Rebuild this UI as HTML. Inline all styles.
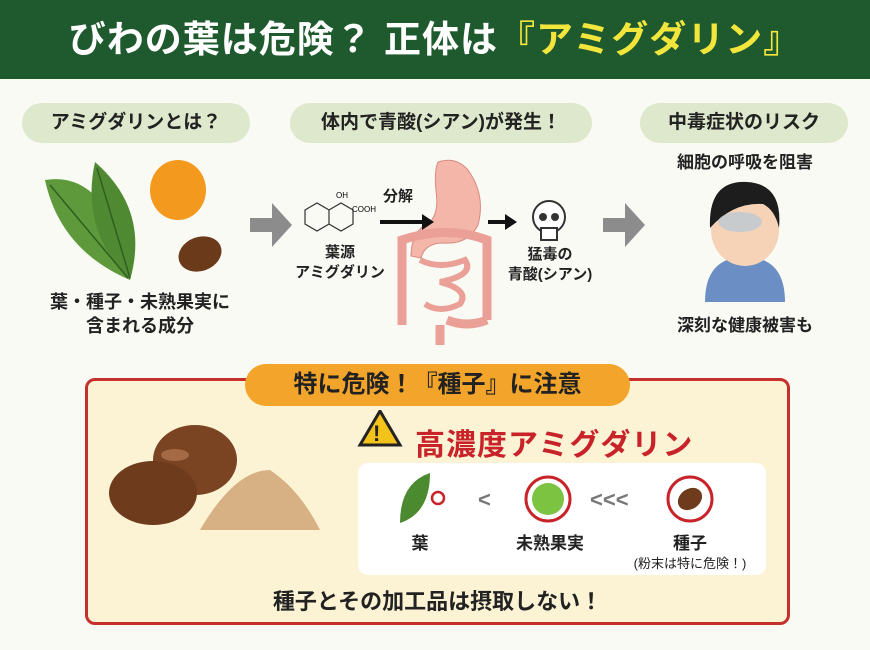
<!DOCTYPE html>
<html><head><meta charset="utf-8"><style>
*{margin:0;padding:0;box-sizing:border-box}
body{width:870px;height:650px;background:#fafaf5;position:relative;overflow:hidden;font-family:"Liberation Sans","Noto Sans CJK JP",sans-serif;font-weight:bold;color:#222}
.a{position:absolute}
.hdr{left:0;top:0;width:870px;height:79px;background:#1f5a2f;color:#fff;font-size:37px;text-align:center;line-height:79px;letter-spacing:1px}
.hdr span{color:#f2e63c}
.pill{background:#dde8cc;border-radius:20px;height:40px;line-height:40px;text-align:center;font-size:19px;top:103px}
.t{text-align:center;font-size:17px;line-height:22px}
</style></head><body>
<div class="a hdr">びわの葉は危険？ 正体は<span>『アミグダリン』</span></div>
<div class="a pill" style="left:22px;width:228px">アミグダリンとは？</div>
<div class="a pill" style="left:290px;width:302px">体内で青酸(シアン)が発生！</div>
<div class="a pill" style="left:640px;width:208px">中毒症状のリスク</div>

<svg class="a" style="left:0;top:150px" width="870" height="200">
<path d="M45 30 Q110 20 130 130 Q60 100 45 30Z" fill="#5e9a3c"/>
<path d="M95 12 Q150 60 130 130 Q80 80 95 12Z" fill="#4f8a33"/>
<path d="M50 35 L128 128 M97 18 L130 128" stroke="#2f5e1e" stroke-width="1.5"/>
<ellipse cx="178" cy="40" rx="28" ry="30" fill="#f39a1e"/>
<ellipse cx="200" cy="104" rx="22" ry="17" fill="#6b3a1a" transform="rotate(-20 200 104)"/>
<path d="M250 68 h22 v-15 l20 22 l-20 22 v-15 h-22z" fill="#8c8c8c"/>
<path d="M603 68 h22 v-15 l20 22 l-20 22 v-15 h-22z" fill="#8c8c8c"/>
<g stroke="#333" fill="none" stroke-width="1.2"><path d="M305 60 l12 -7 l12 7 v14 l-12 7 l-12 -7z M329 60 l12 -7 l12 7 v14 l-12 7 l-12 -7z"/></g>
<text x="336" y="48" font-size="8" font-weight="normal">OH</text><text x="352" y="62" font-size="8" font-weight="normal">COOH</text>
<!-- stomach & intestine -->
<path d="M438 12 q18 -6 30 8 q18 25 10 55 q-10 20 -35 18 q-18 0 -22 15 l-10 -2 q0 -25 20 -35 q8 -10 5 -30 q-2 -20 2 -29z" fill="#f3b6a8" stroke="#d88a80"/>
<path d="M402 175 v-85 q45 -15 85 0 v80 M487 170 q-20 8 -40 0 M440 175 v20" stroke="#eaa096" stroke-width="9" fill="none"/>
<path d="M420 110 q20 10 45 0 q10 15 -25 22 q30 8 20 22 q-20 10 -35 0" stroke="#eaa096" stroke-width="6" fill="none"/>
<path d="M380 72 h45" stroke="#111" stroke-width="4"/><path d="M422 64 l12 8 l-12 8z" fill="#111"/>
<path d="M488 72 h20" stroke="#111" stroke-width="4"/><path d="M505 64 l12 8 l-12 8z" fill="#111"/>
<!-- skull -->
<circle cx="549" cy="67" r="16" fill="#fff" stroke="#333" stroke-width="2"/>
<rect x="541" y="78" width="16" height="12" fill="#fff" stroke="#333" stroke-width="2"/>
<circle cx="543" cy="67" r="4" fill="#333"/><circle cx="555" cy="67" r="4" fill="#333"/>
<!-- person -->
<path d="M705 152 q0 -45 40 -45 q40 0 40 45 z" fill="#6b8fc4"/>
<ellipse cx="745" cy="80" rx="34" ry="36" fill="#f6d3b7"/>
<path d="M710 78 q-2 -48 37 -46 q36 2 32 46 q-4 -18 -16 -24 q-30 -2 -53 24z" fill="#1d1d1d"/>
<ellipse cx="740" cy="72" rx="22" ry="10" fill="#a9c6de" opacity=".6"/>
</svg>
<div class="a t" style="left:20px;top:290px;width:240px;font-size:18px;line-height:24px">葉・種子・未熟果実に<br>含まれる成分</div>
<div class="a t" style="left:290px;top:243px;width:100px;font-size:15px;line-height:20px">葉源<br>アミグダリン</div>
<div class="a" style="left:383px;top:185px;font-size:15px">分解</div>
<div class="a t" style="left:495px;top:245px;width:110px;font-size:15px;line-height:20px">猛毒の<br>青酸(シアン)</div>
<div class="a t" style="left:650px;top:152px;width:190px">細胞の呼吸を阻害</div>
<div class="a t" style="left:650px;top:315px;width:190px">深刻な健康被害も</div>

<div class="a" style="left:85px;top:378px;width:705px;height:247px;border:3px solid #c6302c;border-radius:10px;background:#fcf3d5"></div>
<div class="a" style="left:245px;top:364px;width:385px;height:42px;background:#f3a52b;border-radius:21px;text-align:center;line-height:42px;font-size:24px">特に危険！『種子』に注意</div>
<svg class="a" style="left:95px;top:410px" width="700" height="180">
<ellipse cx="100" cy="50" rx="42" ry="35" fill="#7a4322"/>
<ellipse cx="58" cy="83" rx="44" ry="32" fill="#6e3b1c"/>
<ellipse cx="80" cy="45" rx="14" ry="6" fill="#a46a46"/>
<path d="M105 120 q35 -60 70 -60 q30 20 50 60z" fill="#d7b184"/>
<path d="M265 35 l20 -34 l20 34z" fill="#f3c31c" stroke="#222" stroke-width="3"/>
</svg>
<div class="a" style="left:373px;top:421px;font-size:22px">!</div>
<div class="a" style="left:415px;top:420px;font-size:30px;color:#c9232a;letter-spacing:1px">高濃度アミグダリン</div>
<div class="a" style="left:358px;top:463px;width:408px;height:112px;background:#fff;border-radius:10px"></div>
<svg class="a" style="left:358px;top:463px" width="408" height="112">
<path d="M42 60 q0 -40 30 -50 q0 40 -30 50z" fill="#4c8a30"/>
<circle cx="80" cy="35" r="6" fill="none" stroke="#c9232a" stroke-width="2.5"/>
<text x="120" y="44" font-size="22" fill="#777">&lt;</text>
<circle cx="190" cy="36" r="16" fill="#7cc342"/><circle cx="190" cy="36" r="22" fill="none" stroke="#c9232a" stroke-width="3"/>
<text x="232" y="44" font-size="22" fill="#777">&lt;&lt;&lt;</text>
<circle cx="332" cy="36" r="22" fill="none" stroke="#c9232a" stroke-width="3"/>
<ellipse cx="332" cy="36" rx="13" ry="10" fill="#6e3b1c" transform="rotate(-35 332 36)"/>
</svg>
<div class="a t" style="left:390px;top:533px;width:60px">葉</div>
<div class="a t" style="left:500px;top:533px;width:100px">未熟果実</div>
<div class="a t" style="left:630px;top:533px;width:120px">種子</div>
<div class="a t" style="left:620px;top:553px;width:140px;font-size:13px;font-weight:normal">(粉末は特に危険！)</div>
<div class="a t" style="left:85px;top:588px;width:705px;font-size:22px;line-height:28px">種子とその加工品は摂取しない！</div>
</body></html>
